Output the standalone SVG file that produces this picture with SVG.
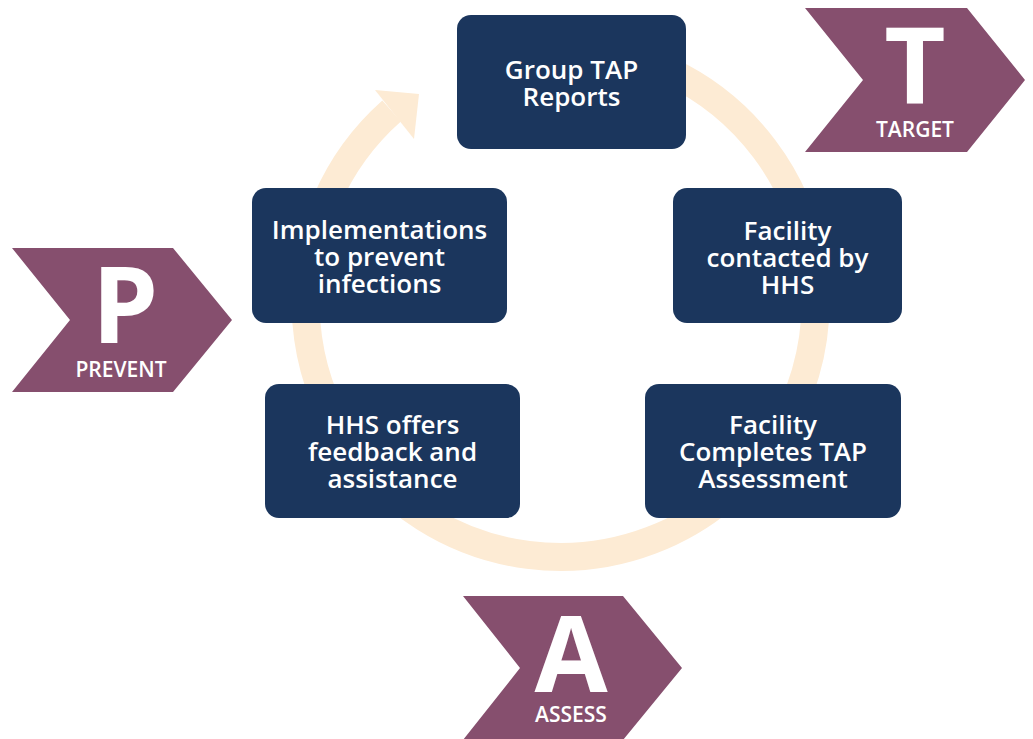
<svg xmlns="http://www.w3.org/2000/svg" width="1033" height="739" viewBox="0 0 1033 739">
<style>
.box{fill:#1B365D;}
.lbl{fill:#FFFFFF;font-family:"Open Sans","Liberation Sans",sans-serif;font-weight:600;font-size:26px;text-anchor:middle;}
.chev{fill:#864F6E;}
.big{fill:#FFFFFF;font-family:"Open Sans","Liberation Sans",sans-serif;font-weight:700;font-size:106px;text-anchor:middle;}
.small{fill:#FFFFFF;font-family:"Open Sans","Liberation Sans",sans-serif;font-weight:600;font-size:21px;text-anchor:middle;}
.ring{fill:none;stroke:#FDEBD4;stroke-width:28;}
</style>
<rect width="1033" height="739" fill="#FFFFFF"/>
<g id="connectors">
<path class="ring" d="M 560.5 47 A 255 255 0 1 1 391.6 111"/>
<polygon points="375,90 419,94 414,139" fill="#FDEBD4"/>
</g>
<g id="node-group-tap">
<rect class="box" x="457" y="15" width="229" height="134" rx="14"/>
<text class="lbl" x="571.5" y="79">Group TAP</text>
<text class="lbl" x="571.5" y="106">Reports</text>
</g>
<g id="node-facility-contacted">
<rect class="box" x="673" y="188" width="229" height="135" rx="14"/>
<text class="lbl" x="787.5" y="240">Facility</text>
<text class="lbl" x="787.5" y="267">contacted by</text>
<text class="lbl" x="787.5" y="294">HHS</text>
</g>
<g id="node-facility-completes">
<rect class="box" x="645" y="384" width="256" height="134" rx="14"/>
<text class="lbl" x="773" y="434">Facility</text>
<text class="lbl" x="773" y="461">Completes TAP</text>
<text class="lbl" x="773" y="488">Assessment</text>
</g>
<g id="node-hhs-offers">
<rect class="box" x="265" y="384" width="255" height="134" rx="14"/>
<text class="lbl" x="392.5" y="434">HHS offers</text>
<text class="lbl" x="392.5" y="461">feedback and</text>
<text class="lbl" x="392.5" y="488">assistance</text>
</g>
<g id="node-implementations">
<rect class="box" x="252" y="188" width="255" height="135" rx="14"/>
<text class="lbl" x="379.5" y="239">Implementations</text>
<text class="lbl" x="379.5" y="266">to prevent</text>
<text class="lbl" x="379.5" y="293">infections</text>
</g>
<g id="chevron-target">
<polygon class="chev" points="805,8 967,8 1025,80 967,152 805,152 863,80"/>
<text class="big" x="915" y="103">T</text>
<text class="small" x="915" y="137">TARGET</text>
</g>
<g id="chevron-prevent">
<polygon class="chev" points="12,248 173,248 232,320 173,392 12,392 70,320"/>
<text class="big" x="125" y="343">P</text>
<text class="small" x="121" y="377">PREVENT</text>
</g>
<g id="chevron-assess">
<polygon class="chev" points="463,596 623,596 682,668 623,740 463,740 520,668"/>
<text class="big" x="571" y="692">A</text>
<text class="small" x="571" y="722">ASSESS</text>
</g>
</svg>
